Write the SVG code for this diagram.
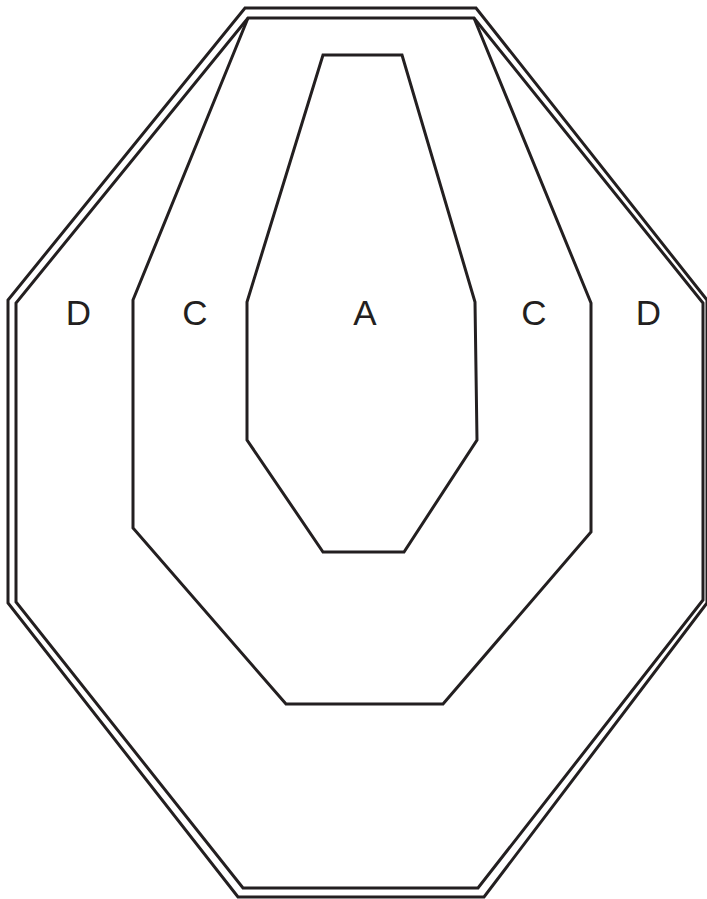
<svg xmlns="http://www.w3.org/2000/svg" width="707" height="899" viewBox="0 0 707 899">
<style>
.ln{fill:none;stroke:#231f20;stroke-width:3;stroke-linejoin:miter}
.lb{font-family:"Liberation Sans",Arial,sans-serif;font-size:35px;fill:#231f20;text-anchor:middle}
</style>
<rect width="707" height="899" fill="#fff"/>
<g id="outer-d">
<polygon class="ln" points="245,8 476,8 707,300 707,603 484,897 238,897 8,603 8,300"/>
<polygon class="ln" points="248,18 474,18 703,303 703,600 478,888 243,888 16,602 16,303"/>
</g>
<g id="zone-c">
<polyline class="ln" points="248,18 133,300 133,528 286,704 443,704 591,532 591,303 474,18"/>
</g>
<g id="zone-a">
<polygon class="ln" points="323,55 402,55 475,302 477,440 404,552 323,552 247,440 247,302"/>
</g>
<g id="labels">
<text class="lb" x="78.5" y="325">D</text>
<text class="lb" x="195" y="325">C</text>
<text class="lb" x="365" y="325">A</text>
<text class="lb" x="534" y="325">C</text>
<text class="lb" x="648.5" y="325">D</text>
</g>
</svg>
